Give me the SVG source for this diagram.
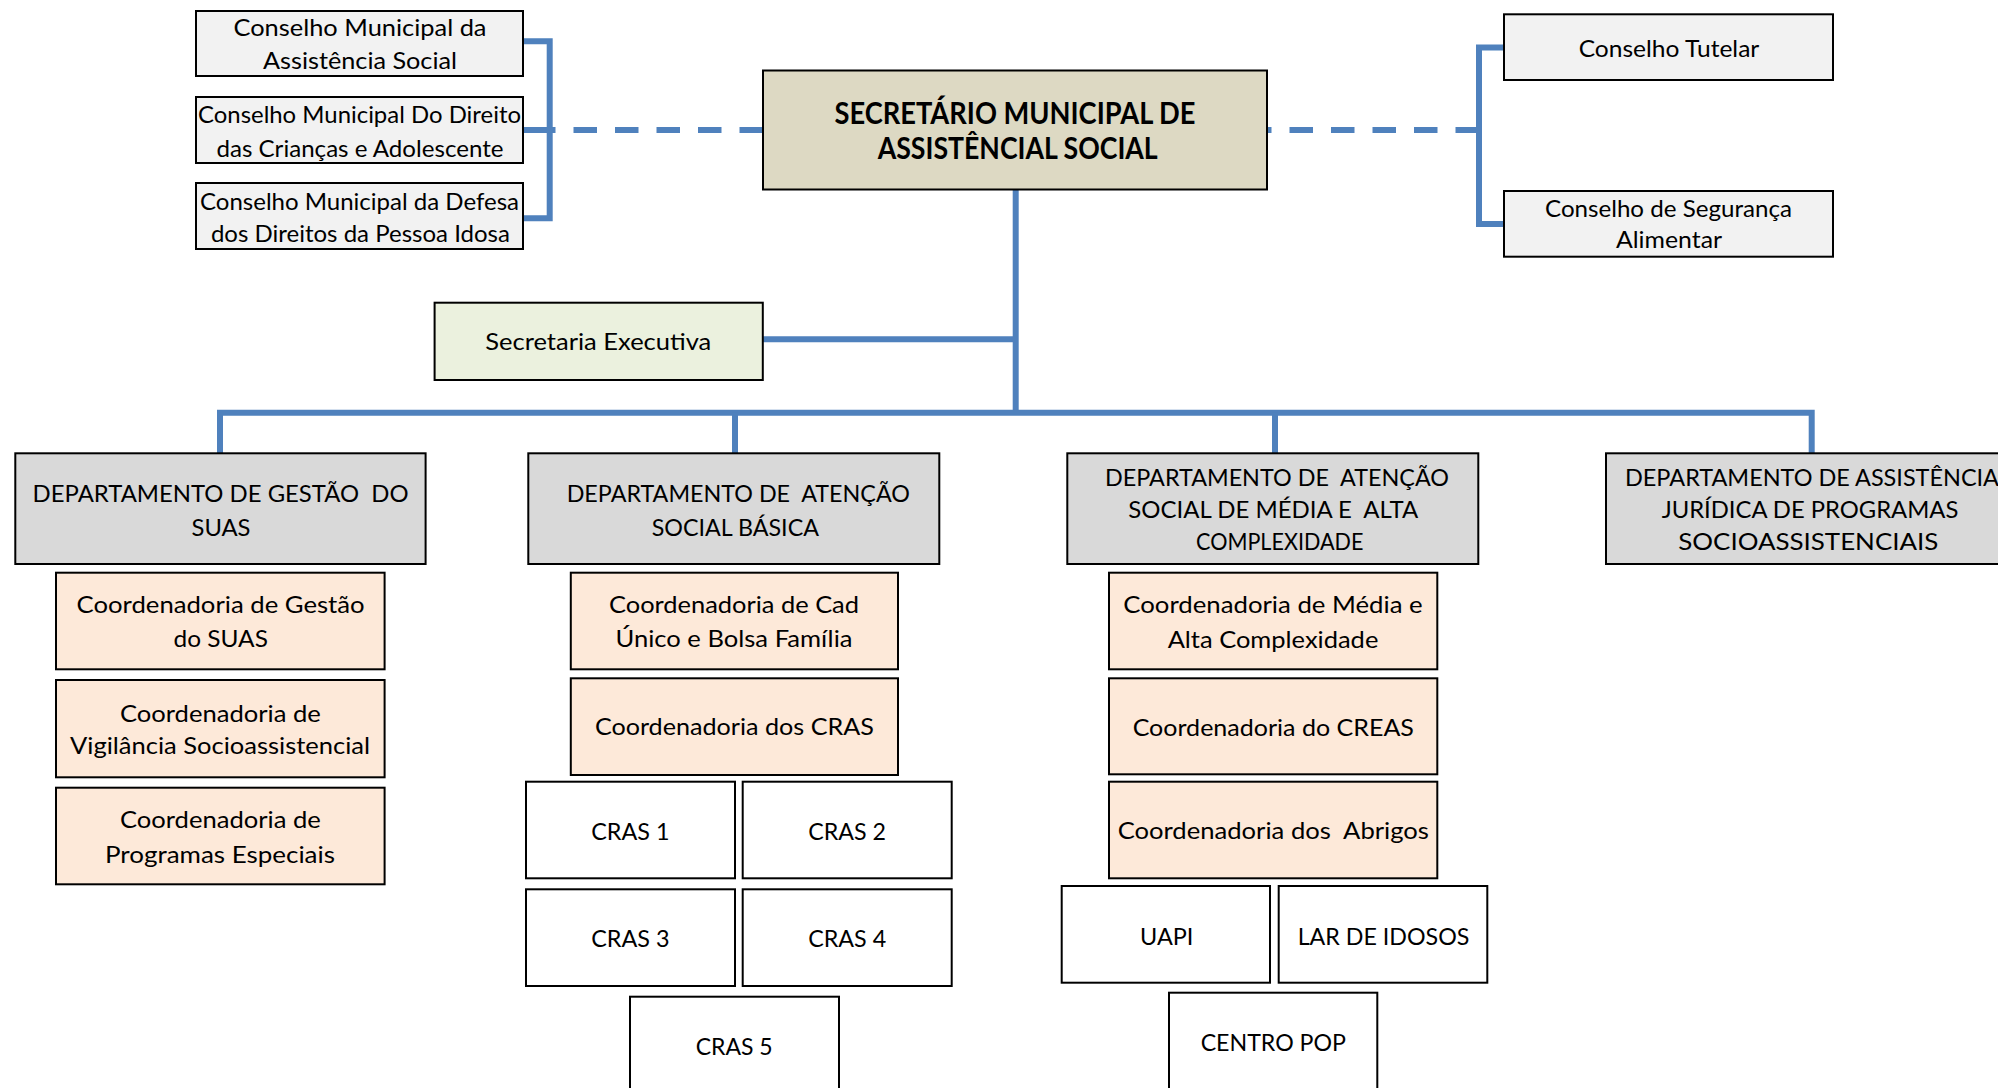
<svg xmlns="http://www.w3.org/2000/svg" width="1998" height="1088" viewBox="0 0 1998 1088" xml:space="preserve">
<style>
  .box{stroke:#000;stroke-width:2}
  .cons{fill:#f2f2f2}
  .main{fill:#ddd9c3}
  .exec{fill:#ebf1de}
  .dept{fill:#d9d9d9}
  .coord{fill:#fde9d9}
  .unit{fill:#ffffff}
  text{font-family:Lato,"Open Sans","Liberation Sans",sans-serif;fill:#000;text-anchor:middle;white-space:pre}
  .t24{font-size:24px}
  .t23{font-size:23px}
  .t22{font-size:23.5px}
  .tb{font-size:29.5px;font-weight:bold}
  .ln{fill:none;stroke:#4f81bd;stroke-width:6}
  .dash{stroke-dasharray:23.5 18}
</style>
<rect width="1998" height="1088" fill="#ffffff"/>
<g id="connectors">
  <path class="ln" d="M523,41.3 H549.7 V218.3 H523 M523,130 H549.7"/>
  <path class="ln dash" d="M763,130 H552"/>
  <path class="ln" d="M1504,47.5 H1479 V224 H1504"/>
  <path class="ln dash" d="M1479,130 H1245"/>
  <path class="ln" d="M1015.7,189 V412.7"/>
  <path class="ln" d="M763,339.3 H1015.7"/>
  <path class="ln" d="M220,453 V412.7 H1811.7 V453"/>
  <path class="ln" d="M735,412.7 V453"/>
  <path class="ln" d="M1275,412.7 V453"/>
</g>
<g id="cons1"><rect class="box cons" x="196" y="11" width="327" height="65"/>
  <text class="t24" x="360" y="36" textLength="253" lengthAdjust="spacingAndGlyphs">Conselho Municipal da</text>
  <text class="t24" x="360" y="69.3" textLength="194" lengthAdjust="spacingAndGlyphs">Assistência Social</text></g>
<g id="cons2"><rect class="box cons" x="196" y="97" width="327" height="66"/>
  <text class="t24" x="359.5" y="122.7" textLength="323" lengthAdjust="spacingAndGlyphs">Conselho Municipal Do Direito</text>
  <text class="t24" x="360" y="156.7" textLength="287" lengthAdjust="spacingAndGlyphs">das Crianças e Adolescente</text></g>
<g id="cons3"><rect class="box cons" x="196" y="183" width="327" height="66"/>
  <text class="t24" x="359.5" y="210" textLength="319" lengthAdjust="spacingAndGlyphs">Conselho Municipal da Defesa</text>
  <text class="t24" x="360.4" y="241.7" textLength="299" lengthAdjust="spacingAndGlyphs">dos Direitos da Pessoa Idosa</text></g>
<g id="secretario"><rect class="box main" x="763" y="70.5" width="504" height="119"/>
  <text class="tb" x="1015" y="123.5" textLength="361" lengthAdjust="spacingAndGlyphs">SECRETÁRIO MUNICIPAL DE</text>
  <text class="tb" x="1017.7" y="158.5" textLength="280" lengthAdjust="spacingAndGlyphs">ASSISTÊNCIAL SOCIAL</text></g>
<g id="tutelar"><rect class="box cons" x="1504" y="14.3" width="329" height="65.7"/>
  <text class="t23" x="1669" y="56.7" textLength="180.6" lengthAdjust="spacingAndGlyphs">Conselho Tutelar</text></g>
<g id="seguranca"><rect class="box cons" x="1504" y="191" width="329" height="65.7"/>
  <text class="t23" x="1668.5" y="216.7" textLength="247" lengthAdjust="spacingAndGlyphs">Conselho de Segurança</text>
  <text class="t23" x="1669" y="248.3" textLength="106" lengthAdjust="spacingAndGlyphs">Alimentar</text></g>
<g id="exec"><rect class="box exec" x="434.6" y="302.7" width="328.2" height="77.3"/>
  <text class="t23" x="598.3" y="350" textLength="226" lengthAdjust="spacingAndGlyphs">Secretaria Executiva</text></g>
<g id="dept1"><rect class="box dept" x="15.3" y="453.3" width="410.3" height="110.7"/>
  <text class="t22" x="220.6" y="501.7" textLength="376" lengthAdjust="spacingAndGlyphs">DEPARTAMENTO DE GESTÃO  DO</text>
  <text class="t22" x="221" y="536" textLength="59" lengthAdjust="spacingAndGlyphs">SUAS</text></g>
<g id="dept2"><rect class="box dept" x="528.3" y="453.3" width="411" height="110.7"/>
  <text class="t22" x="738.3" y="501.7" textLength="343.3" lengthAdjust="spacingAndGlyphs">DEPARTAMENTO DE  ATENÇÃO</text>
  <text class="t22" x="735.3" y="536" textLength="167.3" lengthAdjust="spacingAndGlyphs">SOCIAL BÁSICA</text></g>
<g id="dept3"><rect class="box dept" x="1067.3" y="453.3" width="411" height="110.7"/>
  <text class="t22" x="1277" y="485.5" textLength="344" lengthAdjust="spacingAndGlyphs">DEPARTAMENTO DE  ATENÇÃO</text>
  <text class="t22" x="1273.3" y="517.5" textLength="290" lengthAdjust="spacingAndGlyphs">SOCIAL DE MÉDIA E  ALTA</text>
  <text class="t22" x="1279.7" y="550" textLength="167.3" lengthAdjust="spacingAndGlyphs">COMPLEXIDADE</text></g>
<g id="dept4"><rect class="box dept" x="1606" y="453.3" width="410" height="110.7"/>
  <text class="t22" x="1812" y="486" textLength="374" lengthAdjust="spacingAndGlyphs">DEPARTAMENTO DE ASSISTÊNCIA</text>
  <text class="t22" x="1810" y="517.5" textLength="296.7" lengthAdjust="spacingAndGlyphs">JURÍDICA DE PROGRAMAS</text>
  <text class="t22" x="1808.3" y="549.5" textLength="260" lengthAdjust="spacingAndGlyphs">SOCIOASSISTENCIAIS</text></g>
<g id="coord-gestao"><rect class="box coord" x="56" y="572.7" width="328.6" height="96.6"/>
  <text class="t24" x="220.6" y="613.3" textLength="288" lengthAdjust="spacingAndGlyphs">Coordenadoria de Gestão</text>
  <text class="t24" x="220.7" y="647.3" textLength="94.4" lengthAdjust="spacingAndGlyphs">do SUAS</text></g>
<g id="coord-vigilancia"><rect class="box coord" x="56" y="680" width="328.6" height="97.3"/>
  <text class="t24" x="220.4" y="721.7" textLength="201" lengthAdjust="spacingAndGlyphs">Coordenadoria de</text>
  <text class="t24" x="220" y="754.3" textLength="300" lengthAdjust="spacingAndGlyphs">Vigilância Socioassistencial</text></g>
<g id="coord-programas"><rect class="box coord" x="56" y="787.7" width="328.6" height="96.6"/>
  <text class="t24" x="220.4" y="828.3" textLength="201" lengthAdjust="spacingAndGlyphs">Coordenadoria de</text>
  <text class="t24" x="220" y="862.7" textLength="230" lengthAdjust="spacingAndGlyphs">Programas Especiais</text></g>
<g id="coord-cad"><rect class="box coord" x="570.8" y="572.7" width="327.2" height="96.6"/>
  <text class="t24" x="734" y="613.3" textLength="250" lengthAdjust="spacingAndGlyphs">Coordenadoria de Cad</text>
  <text class="t24" x="734" y="647.3" textLength="237" lengthAdjust="spacingAndGlyphs">Único e Bolsa Família</text></g>
<g id="coord-cras"><rect class="box coord" x="570.8" y="678.3" width="327.2" height="96.7"/>
  <text class="t24" x="734.4" y="735" textLength="279" lengthAdjust="spacingAndGlyphs">Coordenadoria dos CRAS</text></g>
<g id="cras1"><rect class="box unit" x="526" y="781.7" width="209" height="96.6"/>
  <text class="t24" x="630.3" y="840" textLength="78.3" lengthAdjust="spacingAndGlyphs">CRAS 1</text></g>
<g id="cras2"><rect class="box unit" x="742.7" y="781.7" width="209" height="96.6"/>
  <text class="t24" x="847.2" y="840" textLength="77.7" lengthAdjust="spacingAndGlyphs">CRAS 2</text></g>
<g id="cras3"><rect class="box unit" x="526" y="889.3" width="209" height="96.7"/>
  <text class="t24" x="630.3" y="946.7" textLength="78.3" lengthAdjust="spacingAndGlyphs">CRAS 3</text></g>
<g id="cras4"><rect class="box unit" x="742.7" y="889.3" width="209" height="96.7"/>
  <text class="t24" x="847.2" y="946.7" textLength="78" lengthAdjust="spacingAndGlyphs">CRAS 4</text></g>
<g id="cras5"><rect class="box unit" x="630" y="996.7" width="209" height="100"/>
  <text class="t24" x="734.2" y="1055" textLength="77" lengthAdjust="spacingAndGlyphs">CRAS 5</text></g>
<g id="coord-media"><rect class="box coord" x="1109" y="572.7" width="328.3" height="96.6"/>
  <text class="t24" x="1273" y="613.3" textLength="299.3" lengthAdjust="spacingAndGlyphs">Coordenadoria de Média e</text>
  <text class="t24" x="1273" y="647.7" textLength="210.7" lengthAdjust="spacingAndGlyphs">Alta Complexidade</text></g>
<g id="coord-creas"><rect class="box coord" x="1109" y="678.3" width="328.3" height="96"/>
  <text class="t24" x="1273.3" y="735.7" textLength="281.3" lengthAdjust="spacingAndGlyphs">Coordenadoria do CREAS</text></g>
<g id="coord-abrigos"><rect class="box coord" x="1109" y="781.7" width="328.3" height="96.6"/>
  <text class="t24" x="1273.3" y="839.3" textLength="311.3" lengthAdjust="spacingAndGlyphs">Coordenadoria dos  Abrigos</text></g>
<g id="uapi"><rect class="box unit" x="1061.7" y="886" width="208.3" height="96.7"/>
  <text class="t24" x="1166.7" y="945" textLength="53.3" lengthAdjust="spacingAndGlyphs">UAPI</text></g>
<g id="lar"><rect class="box unit" x="1278.7" y="886" width="208.6" height="96.7"/>
  <text class="t24" x="1383.5" y="945" textLength="171.7" lengthAdjust="spacingAndGlyphs">LAR DE IDOSOS</text></g>
<g id="centropop"><rect class="box unit" x="1169" y="992.7" width="208.3" height="104"/>
  <text class="t24" x="1273.3" y="1051" textLength="145.3" lengthAdjust="spacingAndGlyphs">CENTRO POP</text></g>
</svg>
